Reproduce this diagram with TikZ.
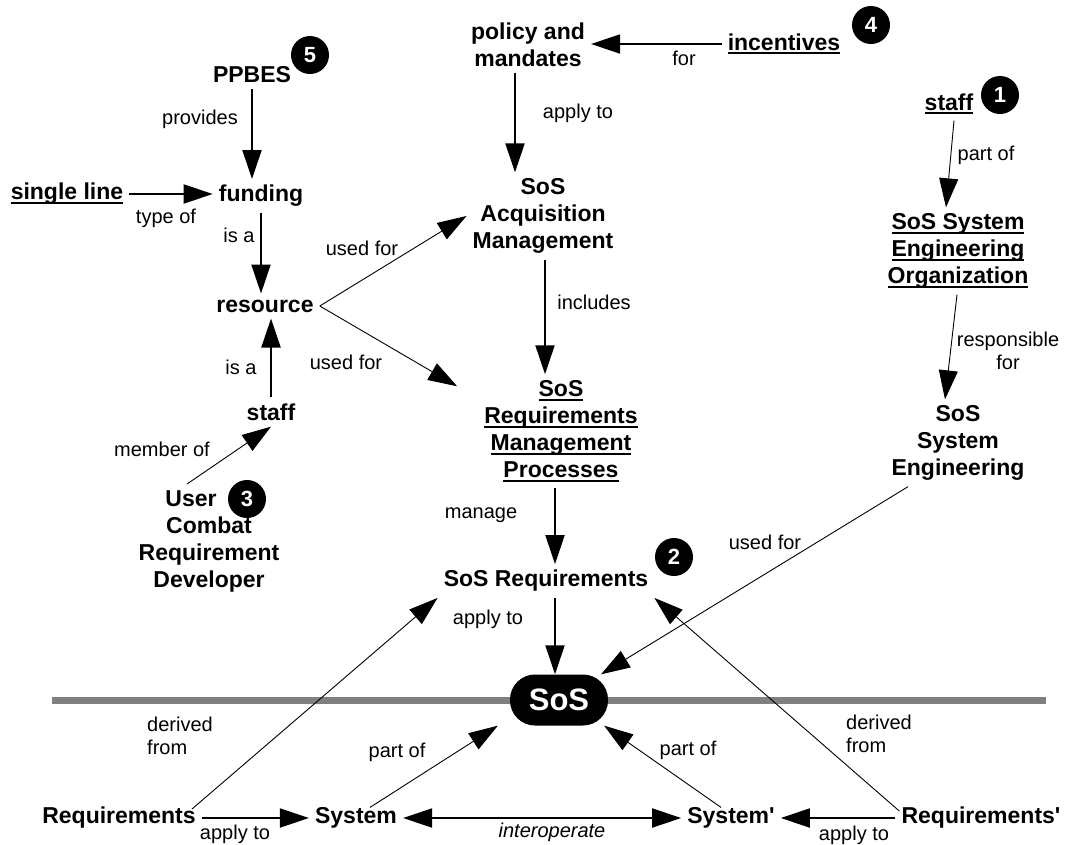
\documentclass[tikz,border=0pt]{standalone}
\usepackage{fontspec}
\setmainfont{Liberation Sans}
\usetikzlibrary{arrows.meta}
\newcommand{\ulword}[1]{\setbox0\hbox{#1}\rlap{\copy0}\rule[-4pt]{\wd0}{2pt}}

\begin{document}
\begin{tikzpicture}[
      x=1pt, y=-1pt,
      concept/.style={font=\bfseries\fontsize{23}{27}\selectfont, align=center, inner sep=6pt},
      lbl/.style={font=\fontsize{20}{23}\selectfont, align=center, inner sep=1pt},
      badge/.style={circle, fill=black, text=white, minimum size=38pt, inner sep=0pt, font=\bfseries\fontsize{22}{22}\selectfont},
      pill/.style={fill=black, text=white, rounded corners=25pt, minimum width=98pt, minimum height=51pt, font=\bfseries\fontsize{31}{31}\selectfont},
      heavy/.style={line width=2pt, -{Triangle[length=29pt,width=19pt]}},
      light/.style={line width=0.9pt, -{Triangle[length=29pt,width=19pt]}},
      divider/.style={line width=7pt, gray}
    ]
    \useasboundingbox (0,0) rectangle (1086,844);

    \coordinate (lineL) at (52,700);
    \coordinate (lineR) at (1046,700);
    \draw[divider] (lineL) -- (lineR);

    \node[concept] (ppbes) at (252,75) {PPBES};
    \node[concept] (policy) at (528,45) {policy and\\mandates};
    \node[concept] (incent) at (784,44) {\ulword{incentives}};
    \node[concept] (staffA) at (949,104) {\ulword{staff}};
    \node[concept] (seo) at (958,251) {\ulword{SoS System}\\\ulword{Engineering}\\\ulword{Organization}};
    \node[concept] (sse) at (958,443) {SoS\\System\\Engineering};
    \node[concept] (single) at (67,194) {\ulword{single line}};
    \node[concept] (funding) at (261,196) {funding};
    \node[concept] (resource) at (265,306) {resource};
    \node[concept] (staffB) at (271,412) {staff};
    \node[concept] (ucrd) at (209,541) {User\hspace*{36pt}\\Combat\\Requirement\\Developer};
    \node[concept] (sosam) at (543,216) {SoS\\Acquisition\\Management};
    \node[concept] (sosrmp) at (561,431) {\ulword{SoS}\\\ulword{Requirements}\\\ulword{Management}\\\ulword{Processes}};
    \node[concept] (sosreq) at (546,581) {SoS Requirements};
    \node[pill] (sos) at (559,700) {SoS};
    \node[concept] (req) at (119,818) {Requirements};
    \node[concept] (sys) at (356,818) {System};
    \node[concept] (sysp) at (731,818) {System\textquotesingle};
    \node[concept] (reqp) at (981,818) {Requirements\textquotesingle};

    \node[badge] (n5) at (310,55) {5};
    \node[badge] (n4) at (871,25) {4};
    \node[badge] (n1) at (1000,95) {1};
    \node[badge] (n2) at (674,557) {2};
    \node[badge] (n3) at (247,499) {3};

    \node[lbl] (provides) at (200,119) {provides};
    \node[lbl] (typeof) at (166,218) {type of};
    \node[lbl] (isa1) at (239,235) {is a};
    \node[lbl] (isa2) at (241,367) {is a};
    \node[lbl] (usedfor1) at (362,248) {used for};
    \node[lbl] (usedfor2) at (346,362) {used for};
    \node[lbl] (memberof) at (162,449) {member of};
    \node[lbl] (for) at (684,58) {for};
    \node[lbl] (applyto1) at (578,113) {apply to};
    \node[lbl] (includes) at (594,302) {includes};
    \node[lbl] (partof1) at (986,155) {part of};
    \node[lbl] (respfor) at (1008,351) {responsible\\for};
    \node[lbl] (usedfor3) at (765,542) {used for};
    \node[lbl] (manage) at (481,515) {manage};
    \node[lbl] (applyto2) at (488,619) {apply to};
    \node[lbl, align=left, anchor=west] (derived1) at (146,736) {derived\\from};
    \node[lbl] (partof2) at (397,752) {part of};
    \node[lbl] (partof3) at (688,750) {part of};
    \node[lbl, align=left, anchor=west] (derived2) at (845,734) {derived\\from};
    \node[lbl] (applyto3) at (235,834) {apply to};
    \node[lbl, font=\itshape\fontsize{20}{23}\selectfont] (interop) at (552,832) {interoperate};
    \node[lbl] (applyto4) at (854,835) {apply to};

    \draw[heavy] (ppbes.south) -- (ppbes.south |- funding.north);
    \draw[heavy] (single.east) -- (single.east -| funding.west);
    \draw[heavy] (funding.south) -- (funding.south |- resource.north);
    \draw[heavy] (staffB.north) -- (staffB.north |- resource.south);
    \draw[light] (resource.east) -- (sosam.west);
    \draw[light] (resource.east) -- ([xshift=-21pt,yshift=-12pt]sosrmp.north west);
    \draw[light] ([xshift=-22pt]ucrd.north) -- (staffB.south);
    \draw[heavy] (incent.west) -- (incent.west -| policy.east);
    \draw[heavy] ([xshift=-13pt]policy.south) -- ([xshift=-28pt]sosam.north);
    \draw[heavy] ([xshift=2pt]sosam.south) -- ([xshift=-16pt]sosrmp.north);
    \draw[heavy] ([xshift=-6pt]sosrmp.south) -- ([xshift=9pt]sosreq.north);
    \draw[heavy] ([xshift=9pt]sosreq.south) -- ([xshift=-4pt]sos.north);
    \draw[light] ([xshift=5pt]staffA.south) -- ([xshift=-12pt]seo.north);
    \draw[light] ([xshift=-1pt]seo.south) -- ([xshift=-13pt]sse.north);
    \draw[light] ([xshift=-50pt]sse.south) -- (sos);
    \draw[light] ([xshift=-10pt,yshift=-8pt]req.north east) -- (sosreq.south west);
    \draw[light] ([xshift=4pt,yshift=-10pt]reqp.north west) -- (sosreq.south east);
    \draw[light] ([xshift=14pt,yshift=-6pt]sys.north) -- ([xshift=-12pt]sos.south west);
    \draw[light] ([xshift=-10pt,yshift=-6pt]sysp.north) -- ([xshift=-4pt]sos.south east);
    \draw[heavy] (req.east) -- (sys.west);
    \draw[heavy, {Triangle[length=29pt,width=19pt]}-{Triangle[length=29pt,width=19pt]}] (sys.east) -- (sysp.west);
    \draw[heavy] (reqp.west) -- (sysp.east);
\end{tikzpicture}
\end{document}
